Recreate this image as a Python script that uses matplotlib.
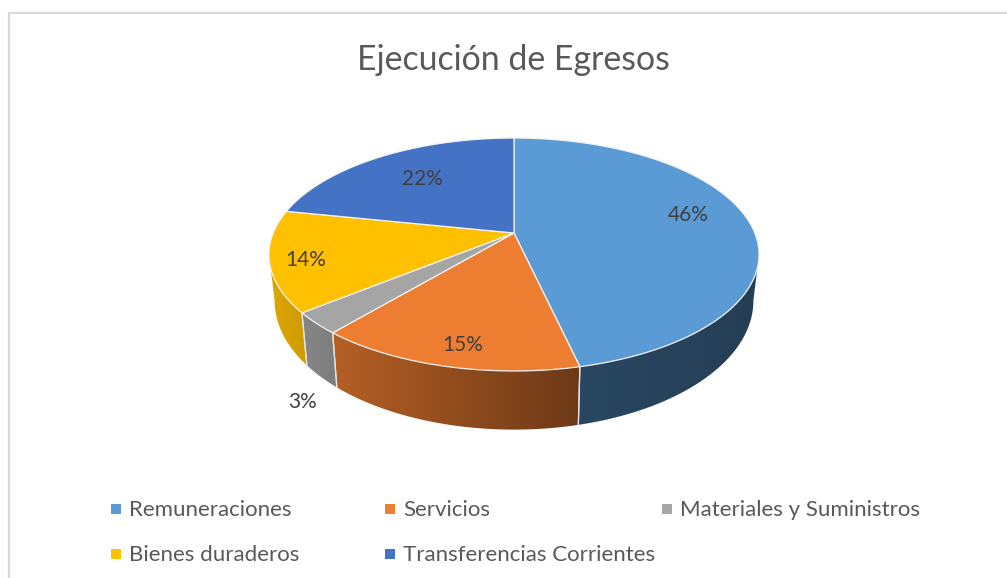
import numpy as np
import matplotlib
matplotlib.use("Agg")
import matplotlib.pyplot as plt
from matplotlib.patches import Polygon

title = "Ejecución de Egresos"
categories = ["Remuneraciones", "Servicios", "Materiales y Suministros",
              "Bienes duraderos", "Transferencias Corrientes"]
values = [46.4, 14.8, 3.0, 14.0, 21.8]
colors = ["#5B9BD5", "#ED7D31", "#A5A5A5", "#FFC000", "#4472C4"]

# geometry / style (pixel space of the canvas)
W, H = 1007, 578
CX, CY = 514.0, 233.0
A, K, C = 112.5, 0.1846, 240.8
label_radius = [0.74, 0.85, 1.07, 0.87, 0.67]
label_dx = [0, 6, 3, 3, 2]
label_dy = [-9, 2, 72, 3, -1]
legend_x = [116, 390, 667, 116, 390]
legend_y = [509, 509, 509, 554, 554]
TEXT = "#595959"
FONT = "Lato"

plt.rcParams["font.family"] = [FONT, "DejaVu Sans"]
fig = plt.figure(figsize=(W / 100, H / 100), dpi=100)
ax = fig.add_axes([0, 0, 1, 1])
ax.axis("off")


def top(theta, r=1.0):
    u, v = r * np.sin(theta), r * np.cos(theta)
    d = 1 + K * v
    return CX + C * u / d, CY - A * v / d


def bottom(theta):
    x, y = top(theta)
    return CX + 0.977 * (x - CX), CY + 1.106 * (y - CY) + 44


def wall_shade(x):
    return np.interp(x, [270, 335, 578, 760], [0.87, 0.76, 0.46, 0.40])


edges = np.cumsum([0] + values) / sum(values) * 2 * np.pi
wall_lo, wall_hi = np.pi - np.arccos(K), np.pi + np.arccos(K)

# frame of the chart area
ax.plot([9, 9, W], [H, 13, 13], color="#d9d9d9", lw=1.6, solid_joinstyle="miter", zorder=1)

# side wall: a horizontal gradient clipped to each slice's outline
for i, color in enumerate(colors):
    a0, a1 = max(edges[i], wall_lo), min(edges[i + 1], wall_hi)
    if a1 <= a0:
        continue
    t = np.linspace(a0, a1, 200)
    xt, yt = top(t)
    xb, yb = bottom(t)
    outline = np.column_stack([np.r_[xt, xb[::-1]], np.r_[yt, yb[::-1]]])
    x0, x1 = outline[:, 0].min(), outline[:, 0].max()
    y0, y1 = outline[:, 1].min(), outline[:, 1].max()
    grid = np.linspace(x0, x1, 128)
    rgb = np.array(matplotlib.colors.to_rgb(color))
    img = (wall_shade(grid)[:, None] * rgb)[None, :, :]
    patch = Polygon(outline, closed=True, facecolor="none", edgecolor="none", transform=ax.transData)
    ax.add_patch(patch)
    im = ax.imshow(img, extent=(x0, x1, y1, y0), aspect="auto", interpolation="bilinear", zorder=2)
    im.set_clip_path(patch)
    for e in (edges[i], edges[i + 1]):
        if wall_lo < e < wall_hi:
            ax.plot(*zip(top(e), bottom(e)), color="#e4e4e4", lw=0.9, zorder=3)

ax.set_xlim(0, W)
ax.set_ylim(H, 0)

# top face
for i, color in enumerate(colors):
    t = np.linspace(edges[i], edges[i + 1], 200)
    xs, ys = top(t)
    pts = np.column_stack([np.r_[CX, xs], np.r_[CY, ys]])
    ax.add_patch(Polygon(pts, closed=True, facecolor=color, edgecolor="#f2f2f2", lw=0.9, zorder=4))

# data labels
for v, e0, e1, r, dx, dy in zip(values, edges[:-1], edges[1:], label_radius, label_dx, label_dy):
    x, y = top((e0 + e1) / 2, r)
    ax.text(x + dx, y + dy, f"{v:.0f}%", ha="center", va="center", fontsize=15, color="#404040", zorder=5)

# title
ax.text(513, 59.5, title, ha="center", va="center", fontsize=24.4, color=TEXT)

# legend
for name, color, lx, ly in zip(categories, colors, legend_x, legend_y):
    ax.plot([lx], [ly], marker="s", ms=6.6, mew=0, color=color, zorder=5)
    ax.text(lx + 13, ly + 1, name, ha="left", va="center", fontsize=16, color=TEXT)

fig.savefig("out.png", dpi=100)
